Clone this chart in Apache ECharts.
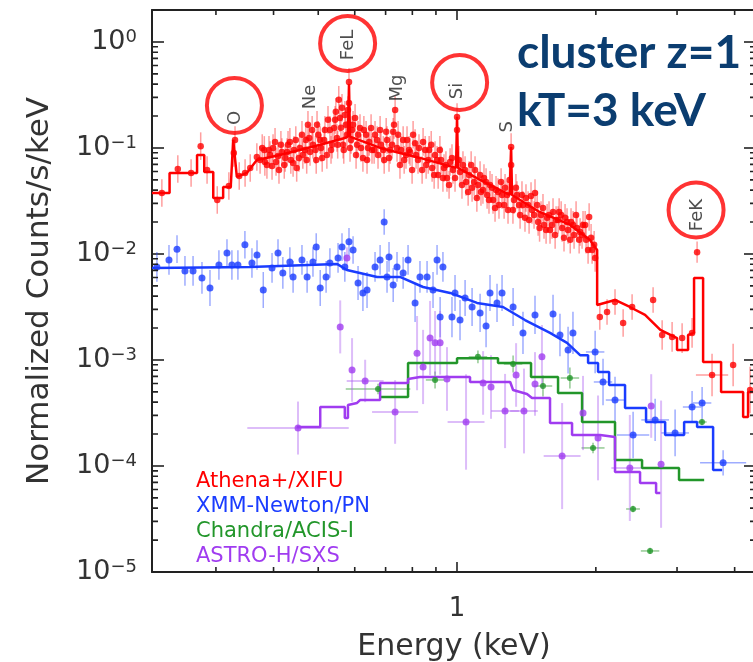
<!DOCTYPE html>
<html>
<head>
<meta charset="utf-8">
<script src="https://cdn.jsdelivr.net/npm/echarts@6/dist/echarts.min.js"></script>
<style>
  html, body { margin: 0; padding: 0; background: #fff; }
  #chart { width: 753px; height: 662px; }
</style>
</head>
<body>
<div id="chart"></div>
<script>
  // axis ranges (keV, counts/s/keV)
  const xMin = 0.218, xMax = 4.45;
  const yMin = 1e-5, yMax = 2;
  const xMinorTicks = [0.3, 0.4, 0.5, 0.6, 0.7, 0.8, 0.9, 2, 3, 4];
  const xLabelValues = [1];
  const yMinorTicks = [
    2e-5, 3e-5, 4e-5, 5e-5, 6e-5, 7e-5, 8e-5, 9e-5,
    2e-4, 3e-4, 4e-4, 5e-4, 6e-4, 7e-4, 8e-4, 9e-4,
    2e-3, 3e-3, 4e-3, 5e-3, 6e-3, 7e-3, 8e-3, 9e-3,
    2e-2, 3e-2, 4e-2, 5e-2, 6e-2, 7e-2, 8e-2, 9e-2,
    2e-1, 3e-1, 4e-1, 5e-1, 6e-1, 7e-1, 8e-1, 9e-1
  ];

  const instruments = ['Athena+/XIFU', 'XMM-Newton/PN', 'Chandra/ACIS-I', 'ASTRO-H/SXS'];
  const colors = ['#ff0000', '#1a3cff', '#22962a', '#a03cf0'];
  const barColors = ['rgba(255,40,40,0.45)', 'rgba(40,70,255,0.45)', 'rgba(40,150,40,0.5)', 'rgba(170,90,240,0.4)'];

  // Athena+ X-IFU: [E, counts]
  const athenaPts = [
    [0.229, 0.0376], [0.248, 0.0634], [0.265, 0.0581], [0.278, 0.104], [0.287, 0.0620],
    [0.302, 0.0323], [0.320, 0.0438], [0.328, 0.0897], [0.330, 0.119], [0.337, 0.0544],
    [0.347, 0.0581], [0.356, 0.0648], [0.368, 0.0822],
    [0.374, 0.0771], [0.382, 0.0958], [0.387, 0.0691], [0.393, 0.0859], [0.399, 0.100],
    [0.405, 0.0738], [0.411, 0.0620], [0.417, 0.0917], [0.424, 0.0805], [0.430, 0.107],
    [0.436, 0.0771], [0.443, 0.0958], [0.449, 0.0648], [0.456, 0.100], [0.463, 0.0859],
    [0.470, 0.119], [0.475, 0.165], [0.480, 0.0917], [0.487, 0.107], [0.495, 0.0771],
    [0.500, 0.133], [0.507, 0.100], [0.515, 0.119], [0.522, 0.0859], [0.530, 0.148],
    [0.536, 0.107], [0.544, 0.184], [0.549, 0.124], [0.554, 0.284], [0.560, 0.155],
    [0.566, 0.107], [0.571, 0.205], [0.577, 0.133], [0.583, 0.419], [0.583, 0.266],
    [0.589, 0.119], [0.595, 0.165], [0.604, 0.0859], [0.610, 0.133], [0.619, 0.100],
    [0.628, 0.148], [0.638, 0.0771], [0.645, 0.114], [0.654, 0.0958], [0.664, 0.133],
    [0.674, 0.0859], [0.684, 0.107], [0.695, 0.0771], [0.705, 0.119], [0.716, 0.0958],
    [0.727, 0.142], [0.734, 0.228], [0.741, 0.100], [0.752, 0.0691], [0.764, 0.119],
    [0.775, 0.0859], [0.787, 0.0958], [0.799, 0.0620], [0.811, 0.111], [0.823, 0.0771],
    [0.844, 0.114], [0.857, 0.0691], [0.870, 0.0958], [0.883, 0.0648], [0.896, 0.0859],
    [0.910, 0.0556], [0.923, 0.0771], [0.937, 0.0648], [0.951, 0.0521], [0.966, 0.0738],
    [0.980, 0.0620], [1.000, 0.196], [1.000, 0.148], [1.015, 0.0594], [1.030, 0.0691],
    [1.046, 0.0478], [1.062, 0.0556], [1.078, 0.0420], [1.094, 0.0620], [1.110, 0.0448],
    [1.127, 0.0384], [1.144, 0.0521], [1.162, 0.0360], [1.179, 0.0448], [1.197, 0.0323],
    [1.215, 0.0402], [1.233, 0.0290], [1.252, 0.0360], [1.271, 0.0420], [1.290, 0.0260],
    [1.310, 0.102], [1.310, 0.0691], [1.329, 0.0323], [1.349, 0.0360], [1.370, 0.0233],
    [1.390, 0.0290], [1.411, 0.0337], [1.433, 0.0209], [1.454, 0.0260], [1.476, 0.0376],
    [1.499, 0.0200], [1.521, 0.0233], [1.544, 0.0188], [1.568, 0.0219], [1.591, 0.0168],
    [1.615, 0.0249], [1.640, 0.0209], [1.665, 0.0249], [1.690, 0.0176], [1.715, 0.0219],
    [1.741, 0.0168], [1.767, 0.0200], [1.794, 0.0151], [1.821, 0.0176], [1.849, 0.0161],
    [1.876, 0.0188], [1.905, 0.0136], [1.934, 0.0223], [1.963, 0.0109], [1.983, 0.0122]
  ];
  // second pass through the dense Athena cloud
  const athenaPts2 = [
    [0.378, 0.100], [0.383, 0.0738], [0.391, 0.0958], [0.397, 0.0676], [0.403, 0.114],
    [0.409, 0.0840], [0.415, 0.107], [0.422, 0.0691], [0.428, 0.0917], [0.434, 0.114],
    [0.441, 0.0722], [0.447, 0.119], [0.454, 0.0805], [0.461, 0.133], [0.468, 0.0958],
    [0.472, 0.0771], [0.478, 0.124], [0.485, 0.148], [0.493, 0.0958], [0.497, 0.165],
    [0.505, 0.119], [0.510, 0.0805], [0.517, 0.148], [0.525, 0.184], [0.533, 0.0958],
    [0.541, 0.154], [0.546, 0.219], [0.551, 0.107], [0.557, 0.192], [0.563, 0.239],
    [0.568, 0.0958], [0.574, 0.165], [0.580, 0.228], [0.586, 0.100], [0.592, 0.148],
    [0.601, 0.192], [0.607, 0.107], [0.616, 0.154], [0.625, 0.0805], [0.635, 0.133],
    [0.641, 0.100], [0.651, 0.154], [0.661, 0.0958], [0.671, 0.119], [0.681, 0.148],
    [0.692, 0.0958], [0.702, 0.142], [0.712, 0.0805], [0.723, 0.107], [0.730, 0.165],
    [0.745, 0.133], [0.756, 0.0958], [0.768, 0.0771], [0.779, 0.119], [0.791, 0.0917],
    [0.803, 0.133], [0.815, 0.0859], [0.827, 0.100], [0.840, 0.0620], [0.853, 0.0958],
    [0.866, 0.0771], [0.879, 0.107], [0.892, 0.0556], [0.905, 0.0771], [0.918, 0.0958],
    [0.932, 0.0521], [0.946, 0.0691], [0.961, 0.0448], [0.975, 0.0805], [0.990, 0.0521],
    [1.010, 0.0771], [1.025, 0.0448], [1.041, 0.0620], [1.057, 0.0384], [1.073, 0.0691],
    [1.089, 0.0478], [1.104, 0.0337], [1.122, 0.0556], [1.138, 0.0402], [1.156, 0.0478],
    [1.173, 0.0323], [1.191, 0.0420], [1.209, 0.0272], [1.227, 0.0384], [1.246, 0.0478],
    [1.265, 0.0290], [1.284, 0.0360], [1.300, 0.0499], [1.322, 0.0260], [1.342, 0.0420],
    [1.363, 0.0290], [1.383, 0.0360], [1.404, 0.0219], [1.426, 0.0290], [1.447, 0.0352],
    [1.469, 0.0233], [1.492, 0.0290], [1.510, 0.0176], [1.536, 0.0272], [1.560, 0.0168],
    [1.583, 0.0233], [1.607, 0.0188], [1.632, 0.0151], [1.657, 0.0209], [1.682, 0.0233],
    [1.706, 0.0142], [1.732, 0.0200], [1.760, 0.0136], [1.785, 0.0188], [1.812, 0.0233],
    [1.840, 0.0136], [1.867, 0.0151], [1.896, 0.0188], [1.924, 0.0109], [1.953, 0.0142],
    [1.993, 0.00917]
  ];
  const athenaErrDex = 0.13;
  // high-energy Athena points: [E, counts, dyDex, dxDex]
  const athenaHiPts = [
    [2.04, 0.00254, 0.12, 0], [2.115, 0.00284, 0.12, 0], [2.201, 0.00352, 0.12, 0],
    [2.292, 0.00223, 0.13, 0], [2.397, 0.00316, 0.12, 0], [2.662, 0.00368, 0.12, 0],
    [2.785, 0.00172, 0.14, 0], [2.927, 0.00165, 0.14, 0], [3.077, 0.00161, 0.14, 0],
    [3.234, 0.00180, 0.14, 0], [3.316, 0.0104, 0.1, 0], [3.573, 0.000722, 0.2, 0.035],
    [3.970, 0.000897, 0.2, 0], [4.321, 0.000521, 0.22, 0]
  ];
  const athenaModel = [
    [0.218, 0.0376], [0.238, 0.0376], [0.238, 0.0581], [0.273, 0.0581], [0.273, 0.0859],
    [0.283, 0.0859], [0.283, 0.0594], [0.296, 0.0594], [0.296, 0.0337], [0.311, 0.0337],
    [0.311, 0.0429], [0.323, 0.0429], [0.327, 0.119], [0.330, 0.119], [0.333, 0.0533],
    [0.350, 0.0581], [0.368, 0.0771], [0.413, 0.0859], [0.505, 0.107], [0.571, 0.124],
    [0.580, 0.128], [0.583, 0.400], [0.586, 0.128], [0.681, 0.100], [0.831, 0.0805],
    [0.995, 0.0648], [1.000, 0.196], [1.005, 0.0648], [1.122, 0.0500], [1.300, 0.0360],
    [1.310, 0.102], [1.316, 0.0360], [1.51, 0.0249], [1.76, 0.0188], [1.94, 0.0136],
    [2.013, 0.0109], [2.013, 0.00330], [2.201, 0.00368], [2.37, 0.00316], [2.557, 0.00266],
    [2.76, 0.00192], [3.0, 0.00161], [3.0, 0.00124], [3.17, 0.00124], [3.17, 0.00172],
    [3.266, 0.00180], [3.266, 0.00594], [3.417, 0.00594], [3.417, 0.000958], [3.738, 0.000958],
    [3.738, 0.000499], [4.173, 0.000499], [4.173, 0.000290], [4.277, 0.000290], [4.277, 0.000499],
    [4.45, 0.000499]
  ];

  // XMM-Newton PN: [E, counts, dyDex, dxDex]
  const xmmPts = [
    [0.2234, 0.00754, 0.14, 0], [0.2373, 0.00878, 0.14, 0], [0.247, 0.0111, 0.13, 0],
    [0.257, 0.00691, 0.14, 0], [0.2676, 0.00691, 0.14, 0], [0.2798, 0.00594, 0.15, 0],
    [0.2912, 0.00478, 0.17, 0], [0.3045, 0.00787, 0.14, 0], [0.317, 0.0102, 0.13, 0],
    [0.3249, 0.00787, 0.14, 0], [0.3348, 0.00787, 0.14, 0], [0.3467, 0.0122, 0.13, 0],
    [0.3591, 0.00822, 0.14, 0], [0.3683, 0.00978, 0.14, 0], [0.380, 0.00457, 0.17, 0],
    [0.397, 0.00738, 0.14, 0], [0.409, 0.0102, 0.13, 0], [0.419, 0.00662, 0.15, 0],
    [0.434, 0.00840, 0.14, 0], [0.441, 0.00607, 0.15, 0], [0.461, 0.00878, 0.14, 0],
    [0.473, 0.00607, 0.15, 0], [0.487, 0.00840, 0.14, 0], [0.495, 0.0116, 0.13, 0],
    [0.505, 0.00478, 0.17, 0], [0.520, 0.00607, 0.15, 0], [0.530, 0.00822, 0.14, 0],
    [0.552, 0.00917, 0.14, 0], [0.563, 0.0116, 0.13, 0], [0.571, 0.00754, 0.14, 0],
    [0.583, 0.0130, 0.13, 0], [0.595, 0.0109, 0.13, 0], [0.610, 0.00533, 0.16, 0],
    [0.625, 0.00429, 0.17, 0], [0.638, 0.00457, 0.17, 0], [0.664, 0.00754, 0.14, 0],
    [0.681, 0.00878, 0.14, 0], [0.695, 0.0200, 0.12, 0], [0.705, 0.00607, 0.15, 0],
    [0.712, 0.00937, 0.14, 0], [0.727, 0.00510, 0.16, 0], [0.741, 0.00754, 0.14, 0],
    [0.764, 0.00662, 0.15, 0], [0.783, 0.00878, 0.14, 0], [0.811, 0.00345, 0.18, 0],
    [0.831, 0.00607, 0.15, 0], [0.861, 0.00607, 0.15, 0], [0.887, 0.00457, 0.17, 0],
    [0.905, 0.00878, 0.14, 0], [0.919, 0.00254, 0.19, 0], [0.932, 0.00754, 0.14, 0],
    [0.975, 0.00254, 0.19, 0], [0.990, 0.00429, 0.17, 0], [1.015, 0.00238, 0.19, 0],
    [1.041, 0.00384, 0.17, 0], [1.078, 0.00316, 0.18, 0], [1.122, 0.00278, 0.18, 0],
    [1.156, 0.00209, 0.20, 0], [1.179, 0.00429, 0.17, 0], [1.221, 0.00345, 0.18, 0],
    [1.252, 0.00429, 0.17, 0], [1.323, 0.00316, 0.18, 0], [1.390, 0.00180, 0.20, 0],
    [1.476, 0.00266, 0.18, 0], [1.615, 0.00272, 0.18, 0], [1.672, 0.00172, 0.20, 0],
    [1.741, 0.00124, 0.22, 0], [1.784, 0.00180, 0.20, 0], [1.993, 0.00119, 0.20, 0.02],
    [2.073, 0.000620, 0.22, 0.02], [2.201, 0.000419, 0.22, 0.02], [2.409, 0.000196, 0.22, 0.035],
    [2.689, 0.000272, 0.20, 0.03], [2.971, 0.000205, 0.22, 0.03], [3.234, 0.000360, 0.15, 0.02],
    [3.400, 0.000393, 0.15, 0.02], [3.776, 0.000107, 0.12, 0.05]
  ];
  const xmmModel = [
    [0.218, 0.00738], [0.356, 0.00754], [0.549, 0.00805], [0.577, 0.00706], [0.671, 0.00607],
    [0.752, 0.00607], [0.844, 0.00488], [0.966, 0.00429], [1.105, 0.00345], [1.258, 0.00316],
    [1.404, 0.00238], [1.591, 0.00180], [1.732, 0.00145], [1.849, 0.00111], [1.924, 0.00111],
    [1.924, 0.000937], [2.022, 0.000937], [2.022, 0.000771], [2.137, 0.000771], [2.137, 0.000581],
    [2.314, 0.000581], [2.314, 0.000352], [2.57, 0.000352], [2.57, 0.000260], [2.827, 0.000260],
    [2.827, 0.000196], [3.108, 0.000196], [3.108, 0.000260], [3.316, 0.000260], [3.316, 0.000233],
    [3.592, 0.000233], [3.592, 0.0000917], [3.757, 0.0000917]
  ];

  // Chandra ACIS-I
  const chandraPts = [
    [0.674, 0.000533, 0.05, 0.07], [0.896, 0.000648, 0.08, 0.02], [1.110, 0.00107, 0.06, 0.02],
    [1.323, 0.000917, 0.08, 0.02], [1.536, 0.000568, 0.10, 0.02], [1.757, 0.000676, 0.10, 0.02],
    [1.972, 0.000148, 0.05, 0.025], [2.408, 0.0000393, 0.03, 0.015], [2.622, 0.0000158, 0.03, 0.02],
    [3.398, 0.000260, 0.03, 0.01]
  ];
  const chandraModel = [
    [0.681, 0.000448], [0.783, 0.000448], [0.783, 0.000937], [1.0, 0.000937], [1.0, 0.00104],
    [1.227, 0.00104], [1.227, 0.000937], [1.447, 0.000937], [1.447, 0.000691], [1.656, 0.000691],
    [1.656, 0.000488], [1.867, 0.000488], [1.867, 0.000260], [2.201, 0.000260], [2.201, 0.000114],
    [2.519, 0.000114], [2.519, 0.0000958], [3.03, 0.0000958], [3.03, 0.0000738], [3.435, 0.0000738]
  ];

  // ASTRO-H SXS
  const astroPts = [
    [0.452, 0.000228, 0.25, 0.11], [0.558, 0.00205, 0.25, 0], [0.577, 0.00917, 0.10, 0],
    [0.592, 0.000805, 0.30, 0], [0.632, 0.000634, 0.20, 0.04], [0.734, 0.000323, 0.30, 0.05],
    [0.819, 0.00116, 0.35, 0], [0.844, 0.000859, 0.35, 0], [0.874, 0.00161, 0.35, 0],
    [0.896, 0.00145, 0.30, 0], [0.919, 0.00145, 0.30, 0], [0.951, 0.000662, 0.30, 0],
    [1.046, 0.000260, 0.45, 0.04], [1.139, 0.000607, 0.30, 0], [1.185, 0.000556, 0.30, 0],
    [1.271, 0.000330, 0.35, 0.03], [1.343, 0.000722, 0.30, 0], [1.397, 0.000330, 0.40, 0.03],
    [1.476, 0.000594, 0.30, 0], [1.528, 0.00107, 0.30, 0], [1.690, 0.000124, 0.50, 0.04],
    [1.876, 0.000316, 0.35, 0], [2.022, 0.000184, 0.40, 0], [2.370, 0.0000958, 0.50, 0.04],
    [2.637, 0.000368, 0.30, 0], [2.770, 0.000104, 0.60, 0]
  ];
  const astroModel = [
    [0.449, 0.000233], [0.505, 0.000233], [0.505, 0.000360], [0.571, 0.000360], [0.571, 0.000284],
    [0.580, 0.000284], [0.580, 0.000376], [0.607, 0.000393], [0.616, 0.000419], [0.681, 0.000419],
    [0.681, 0.000607], [0.783, 0.000607], [0.783, 0.000662], [0.831, 0.000691], [1.067, 0.000691],
    [1.067, 0.000620], [1.304, 0.000620], [1.323, 0.000521], [1.418, 0.000478], [1.454, 0.000438],
    [1.591, 0.000438], [1.591, 0.000254], [1.776, 0.000254], [1.776, 0.000196], [2.043, 0.000196],
    [2.201, 0.000188], [2.201, 0.0000878], [2.494, 0.0000878], [2.494, 0.0000691], [2.702, 0.0000691],
    [2.702, 0.0000556], [2.76, 0.0000556]
  ];

  // line annotations
  const circleCenters = [[0.329, 0.252], [0.579, 0.968], [1.013, 0.415], [3.299, 0.0260]];
  const lineLabels = [
    [0.330, 0.192, 'O'], [0.582, 0.937, 'FeL'], [1.0, 0.345, 'Si'], [3.316, 0.0233, 'FeK'],
    [0.480, 0.303, 'Ne'], [0.741, 0.368, 'Mg'], [1.284, 0.158, 'S']
  ];

  const gridBox = { left: 152, right: -3, top: 10, bottom: 90 };

  const chart = echarts.init(document.getElementById('chart'));

  function errorBars(color, width) {
    return function (params, api) {
      const e = api.value(0), c = api.value(1), dy = api.value(2), dx = api.value(3);
      const lo = api.coord([e, c / Math.pow(10, dy)]);
      const hi = api.coord([e, c * Math.pow(10, dy)]);
      const style = { stroke: color, lineWidth: width };
      const children = [{ type: 'line', shape: { x1: lo[0], y1: lo[1], x2: hi[0], y2: hi[1] }, style }];
      if (dx > 0) {
        const l = api.coord([e / Math.pow(10, dx), c]);
        const r = api.coord([e * Math.pow(10, dx), c]);
        children.push({ type: 'line', shape: { x1: l[0], y1: l[1], x2: r[0], y2: r[1] }, style });
      }
      return { type: 'group', children };
    };
  }

  const axisFont = 'DejaVu Sans';
  const textColor = '#333';
  const tickLine = { color: '#222', width: 1.6 };
  const isDecade = v => Math.abs(Math.log10(v) - Math.round(Math.log10(v))) < 1e-6;

  const xAxes = [
    {
      type: 'log', min: xMin, max: xMax, position: 'bottom',
      axisLine: { show: true, onZero: false, lineStyle: { color: '#222', width: 2 } },
      axisTick: { show: true, inside: true, length: 10, lineStyle: tickLine },
      axisLabel: {
        margin: 24, fontFamily: axisFont, fontSize: 26, color: textColor,
        formatter: v => (xLabelValues.some(t => Math.abs(t - v) < 1e-6) ? String(Math.round(v)) : '')
      },
      splitLine: { show: false },
      name: 'Energy (keV)', nameLocation: 'middle', nameGap: 60,
      nameTextStyle: { fontFamily: axisFont, fontSize: 30, color: textColor }
    },
    {
      type: 'log', min: xMin, max: xMax, position: 'top',
      axisLine: { show: true, onZero: false, lineStyle: { color: '#222', width: 2 } },
      axisTick: { show: true, inside: true, length: 10, lineStyle: tickLine },
      axisLabel: { show: false }, splitLine: { show: false }
    }
  ];

  const yAxes = [
    {
      type: 'log', min: yMin, max: yMax, position: 'left',
      axisLine: { show: true, onZero: false, lineStyle: { color: '#222', width: 2 } },
      axisTick: { show: true, inside: true, length: 12, lineStyle: tickLine },
      axisLabel: {
        margin: 15,
        formatter: v => {
          if (!isDecade(v)) return '';
          const p = Math.round(Math.log10(v));
          return '{b|10}{s|' + (p < 0 ? '\u2212' + (-p) : p) + '}';
        },
        rich: {
          b: { fontFamily: axisFont, fontSize: 27, color: textColor },
          s: { fontFamily: axisFont, fontSize: 18, color: textColor, verticalAlign: 'top' }
        }
      },
      splitLine: { show: false },
      name: 'Normalized Counts/s/keV', nameLocation: 'middle', nameGap: 97,
      nameTextStyle: { fontFamily: axisFont, fontSize: 31, color: textColor }
    },
    {
      type: 'log', min: yMin, max: yMax, position: 'right',
      axisLine: { show: true, onZero: false, lineStyle: { color: '#222', width: 2 } },
      axisTick: { show: true, inside: true, length: 12, lineStyle: tickLine },
      axisLabel: { show: false }, splitLine: { show: false }
    }
  ];

  const datasets = [
    {
      pts: athenaPts.concat(athenaPts2).map(p => [p[0], p[1], athenaErrDex, 0]).concat(athenaHiPts),
      model: athenaModel, size: 6.5
    },
    { pts: xmmPts, model: xmmModel, size: 7 },
    { pts: chandraPts, model: chandraModel, size: 6 },
    { pts: astroPts, model: astroModel, size: 7 }
  ];

  const series = [];
  datasets.forEach((d, i) => {
    series.push({
      name: instruments[i], type: 'custom', xAxisIndex: 0, yAxisIndex: 0,
      renderItem: errorBars(barColors[i], i === 3 ? 2 : 1.5),
      data: d.pts, encode: { x: 0, y: 1 }, clip: true, z: 2, silent: true
    });
  });
  datasets.forEach((d, i) => {
    series.push({
      name: instruments[i], type: 'line', xAxisIndex: 0, yAxisIndex: 0,
      data: d.model, showSymbol: false, symbol: 'none',
      lineStyle: { color: colors[i], width: 2.5 }, z: 3, silent: true
    });
  });
  datasets.forEach((d, i) => {
    series.push({
      name: instruments[i], type: 'scatter', xAxisIndex: 0, yAxisIndex: 0,
      data: d.pts.map(p => [p[0], p[1]]), symbolSize: d.size,
      itemStyle: { color: colors[i] }, z: 4, silent: true
    });
  });

  // minor frame ticks (2..9 per decade) as short two-point line series
  const gridW = 753 - gridBox.left - gridBox.right;
  const gridH = 662 - gridBox.top - gridBox.bottom;
  const xDecadePx = gridW / Math.log10(xMax / xMin);
  const yDecadePx = gridH / Math.log10(yMax / yMin);
  function tickSeries(points) {
    series.push({
      type: 'line', xAxisIndex: 0, yAxisIndex: 0, data: points, symbol: 'none', showSymbol: false,
      lineStyle: tickLine, z: 7, silent: true
    });
  }
  const fy = Math.pow(10, 6 / xDecadePx);
  yMinorTicks.forEach(v => {
    tickSeries([[xMin, v], [xMin * fy, v]]);
    tickSeries([[xMax, v], [xMax / fy, v]]);
  });
  const fx = Math.pow(10, 5 / yDecadePx);
  xMinorTicks.forEach(v => {
    tickSeries([[v, yMin], [v, yMin * fx]]);
    tickSeries([[v, yMax], [v, yMax / fx]]);
  });

  series.push({
    type: 'scatter', xAxisIndex: 0, yAxisIndex: 0, data: circleCenters, symbolSize: 55,
    itemStyle: { color: 'rgba(0,0,0,0)', borderColor: '#ff0000', borderWidth: 4 }, z: 5, silent: true
  });
  series.push({
    type: 'scatter', xAxisIndex: 0, yAxisIndex: 0, data: lineLabels, symbolSize: 0, z: 6, silent: true,
    label: {
      show: true, position: 'inside', rotate: 90, formatter: p => p.data[2],
      fontFamily: axisFont, fontSize: 18, color: '#222'
    }
  });

  chart.setOption({
    animation: false,
    grid: Object.assign({ outerBoundsMode: 'none' }, gridBox),
    xAxis: xAxes,
    yAxis: yAxes,
    legend: {
      orient: 'vertical', left: 186, top: 466, itemGap: 4, itemWidth: 0, itemHeight: 21,
      icon: 'none', selectedMode: false,
      textStyle: { fontFamily: axisFont, fontSize: 21 },
      data: instruments.map((n, i) => ({ name: n, icon: 'none', textStyle: { color: colors[i] } }))
    },
    graphic: [
      { type: 'text', left: 517, top: 30, style: { text: 'cluster z=1', font: 'bold 46px Lato', fill: '#0b3d70' } },
      { type: 'text', left: 517, top: 88, style: { text: 'kT=3 keV', font: 'bold 46px Lato', fill: '#0b3d70' } }
    ],
    series: series
  });
</script>
</body>
</html>
